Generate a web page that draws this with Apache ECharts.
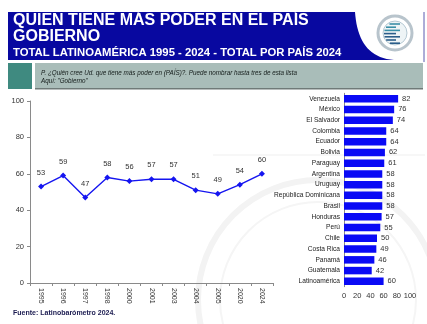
<!DOCTYPE html>
<html>
<head>
<meta charset="utf-8">
<script src="https://cdn.jsdelivr.net/npm/echarts@6/dist/echarts.min.js"></script>
<style>
  html, body { margin: 0; padding: 0; background: #fff; }
  #chart { width: 427px; height: 324px; }
</style>
</head>
<body>
<div id="chart"></div>
<script>
// Serie histórica: Latinoamérica, "Gobierno" como quien tiene más poder
const years = ['1995', '1996', '1997', '1998', '2000', '2001', '2003', '2004', '2005', '2020', '2024'];
const totalValues = [53, 59, 47, 58, 56, 57, 57, 51, 49, 54, 60];

// Resultados por país, 2024
const countries = ['Venezuela', 'México', 'El Salvador', 'Colombia', 'Ecuador', 'Bolivia', 'Paraguay',
  'Argentina', 'Uruguay', 'República Dominicana', 'Brasil', 'Honduras', 'Perú', 'Chile',
  'Costa Rica', 'Panamá', 'Guatemala', 'Latinoamérica'];
const countryValues = [82, 76, 74, 64, 64, 62, 61, 58, 58, 58, 58, 57, 55, 50, 49, 46, 42, 60];

const valueTicks = [0, 20, 40, 60, 80, 100];

const FONT = '"Liberation Sans", Arial, sans-serif';
const chart = echarts.init(document.getElementById('chart'), null, { renderer: 'canvas' });

// Contorno de la banda azul del título, con el borde derecho curvo
function bannerPoints() {
  const pts = [[8, 12], [355, 12]];
  const p0 = [355, 12], c1 = [357, 40], c2 = [368, 58], p3 = [394, 60];
  for (let i = 1; i <= 20; i++) {
    const t = i / 20, u = 1 - t;
    pts.push([
      u * u * u * p0[0] + 3 * u * u * t * c1[0] + 3 * u * t * t * c2[0] + t * t * t * p3[0],
      u * u * u * p0[1] + 3 * u * u * t * c1[1] + 3 * u * t * t * c2[1] + t * t * t * p3[1]
    ]);
  }
  pts.push([8, 60]);
  return pts;
}

// Emblema circular de la esquina superior derecha
const logoLines = [];
for (let i = 0; i < 7; i++) {
  const y = 24 + i * 3.2;
  const half = Math.sqrt(Math.max(0, 121 - Math.pow(y - 33.5, 2)));
  logoLines.push({
    type: 'line', silent: true,
    shape: { x1: 395 - half, y1: y, x2: 395 + (i % 2 ? 1 : 5), y2: y },
    style: { stroke: i < 3 ? '#3a8fa8' : '#2b5d8a', lineWidth: 1.6 }
  });
}

chart.setOption({
  animation: false,
  textStyle: { fontFamily: FONT },
  graphic: [
    // Marca de agua tenue
    { type: 'circle', silent: true, z: -10, shape: { cx: 318, cy: 300, r: 120 },
      style: { fill: 'none', stroke: '#f3f3f3', lineWidth: 6 } },
    { type: 'circle', silent: true, z: -10, shape: { cx: 318, cy: 300, r: 98 },
      style: { fill: 'none', stroke: '#f5f5f5', lineWidth: 2 } },
    { type: 'line', silent: true, z: -10, shape: { x1: 213, y1: 155, x2: 425, y2: 155 },
      style: { stroke: '#efefef', lineWidth: 1 } },
    // Banda del título
    { type: 'polygon', silent: true, shape: { points: bannerPoints() },
      style: { fill: '#0808a0' } },
    { type: 'line', silent: true, shape: { x1: 424, y1: 12, x2: 424, y2: 62 },
      style: { stroke: '#5a5ab0', lineWidth: 1 } },
    { type: 'text', silent: true, left: 13, top: 12,
      style: { text: 'QUIEN TIENE MÁS PODER EN EL PAÍS\nGOBIERNO', fill: '#ffffff',
        font: 'bold 16px ' + FONT, lineHeight: 16.5 } },
    { type: 'text', silent: true, left: 13, top: 47.5,
      style: { text: 'TOTAL LATINOAMÉRICA 1995 - 2024 - TOTAL POR PAÍS 2024', fill: '#ffffff',
        font: 'bold 11.3px ' + FONT } },
    // Emblema
    { type: 'circle', silent: true, shape: { cx: 395, cy: 33, r: 17 },
      style: { fill: '#ffffff', stroke: '#b8c4cc', lineWidth: 3 } },
    { type: 'circle', silent: true, shape: { cx: 395, cy: 33, r: 12 },
      style: { fill: '#eef4f6', stroke: '#8aa8b8', lineWidth: 0.6 } },
    ...logoLines,
    // Caja de la pregunta
    { type: 'rect', silent: true, shape: { x: 8, y: 63, width: 24, height: 26 },
      style: { fill: '#3f8a80' } },
    { type: 'rect', silent: true, shape: { x: 35, y: 63, width: 388, height: 25 },
      style: { fill: '#a9bdb9' } },
    { type: 'rect', silent: true, shape: { x: 35, y: 88, width: 388, height: 1.5 },
      style: { fill: '#6f7a78' } },
    { type: 'text', silent: true, left: 41, top: 69.5,
      style: { text: 'P. ¿Quién cree Ud. que tiene más poder en (PAÍS)?. Puede nombrar hasta tres de esta lista\nAquí: "Gobierno"',
        fill: '#141c1a', font: 'italic 6.3px ' + FONT, lineHeight: 7.5 } },
    // Fuente
    { type: 'text', silent: true, left: 13, top: 310,
      style: { text: 'Fuente: Latinobarómetro 2024.', fill: '#1a1a50', font: 'bold 7px ' + FONT } }
  ],
  grid: [
    { left: 30, right: 154, top: 101, bottom: 41 },
    { left: 344, right: 17, top: 93.3, bottom: 37.3 }
  ],
  xAxis: [
    {
      gridIndex: 0, type: 'category', data: years, boundaryGap: true,
      axisLine: { lineStyle: { color: '#8a8a8a' } },
      axisTick: { show: true, interval: 0, length: 3, lineStyle: { color: '#8a8a8a' } },
      axisLabel: { interval: 0, rotate: -90, fontSize: 7, color: '#333', margin: 5 }
    },
    {
      gridIndex: 1, type: 'value', min: valueTicks[0], max: valueTicks[valueTicks.length - 1], interval: 20,
      splitLine: { show: false },
      axisLine: { show: false }, axisTick: { show: false },
      axisLabel: { fontSize: 7.5, color: '#333', margin: 5 }
    }
  ],
  yAxis: [
    {
      gridIndex: 0, type: 'value', min: valueTicks[0], max: valueTicks[valueTicks.length - 1], interval: 20,
      splitLine: { show: false },
      axisLine: { show: true, lineStyle: { color: '#8a8a8a' } },
      axisTick: { show: true, length: 3, lineStyle: { color: '#8a8a8a' } },
      axisLabel: { fontSize: 7.5, color: '#333', margin: 6 }
    },
    {
      gridIndex: 1, type: 'category', data: countries, inverse: true,
      axisLine: { show: true, lineStyle: { color: '#8a8a8a' } },
      axisTick: { show: false },
      axisLabel: { interval: 0, fontSize: 6.6, color: '#222', margin: 4 }
    }
  ],
  series: [
    {
      type: 'line', xAxisIndex: 0, yAxisIndex: 0, data: totalValues,
      symbol: 'diamond', symbolSize: 6,
      lineStyle: { color: '#1515f0', width: 1.4 },
      itemStyle: { color: '#1515f0' },
      label: { show: true, position: 'top', distance: 7, fontSize: 7.5, color: '#333' }
    },
    {
      type: 'bar', xAxisIndex: 1, yAxisIndex: 1, data: countryValues,
      barWidth: 7.5,
      itemStyle: { color: '#0a0af5' },
      label: { show: true, position: 'right', distance: 4, fontSize: 7.5, color: '#333' }
    }
  ]
});
</script>
</body>
</html>
